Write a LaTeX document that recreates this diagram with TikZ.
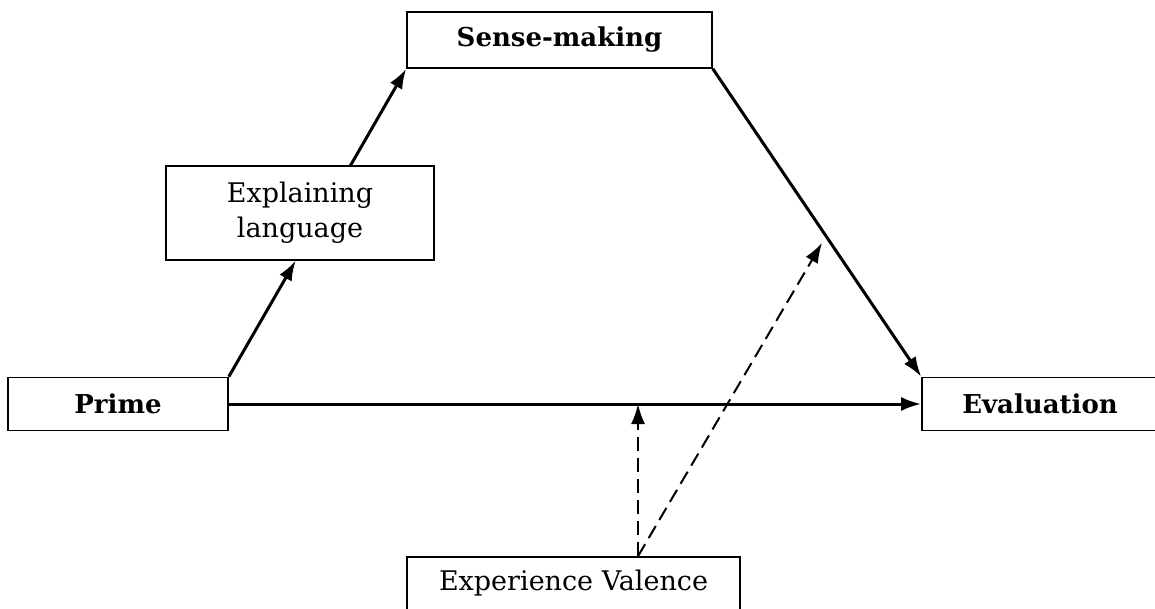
\documentclass[tikz,border=0pt]{standalone}
\usepackage{fontspec}
\setmainfont{DejaVu Serif}
\usetikzlibrary{arrows.meta,positioning,calc}

\begin{document}
\begin{tikzpicture}[
    x=1pt, y=-1pt,
    box/.style={
        draw=black,
        line width=1.6pt,
        align=center,
        minimum height=53pt,
        inner sep=0pt,
        fill=white,
        font=\fontsize{27}{35}\selectfont
    },
    keybox/.style={
        box,
        font=\fontsize{26}{34}\selectfont\bfseries
    },
    arrow/.style={
        -{Latex[length=20pt,width=14pt]},
        line width=3pt
    },
    modarrow/.style={
        -{Latex[length=20pt,width=14pt]},
        line width=2pt,
        dash pattern=on 14pt off 7pt
    }
]
\useasboundingbox (0,0) rectangle (1155,609);

% Boxes
\node[keybox, minimum width=220pt] (prime) at (118,404) {Prime};

\node[keybox, minimum width=305pt, minimum height=56pt] (sense) at (559.5,40) {Sense-making};

\node[box, minimum width=268pt, minimum height=94pt] (explain) at (300,213)
{Explaining\\language};

\node[keybox, minimum width=236pt] (eval) at (1040,404) {Evaluation};

\node[box, minimum width=333pt] (valence) at (573.5,583.5) {Experience Valence};

% Points hit by the moderating arrows
\coordinate (onmain) at ($(prime.east)!0.591!(eval.west)$);
\coordinate (onside) at (822,243);
\coordinate (vsrc) at (valence.north -| onmain);

% Connections
\draw[arrow] (prime.north east) -- ($(prime.north east)!0.377!(sense.south west)$);

\draw[arrow] ($(prime.north east)!0.683!(sense.south west)$) -- (sense.south west);

\draw[arrow] (sense.south east) -- (eval.north west);

\draw[arrow] (prime.east) -- (eval.west);

\draw[modarrow] (vsrc) -- (onmain);

\draw[modarrow] (vsrc) -- (onside);

\end{tikzpicture}
\end{document}
